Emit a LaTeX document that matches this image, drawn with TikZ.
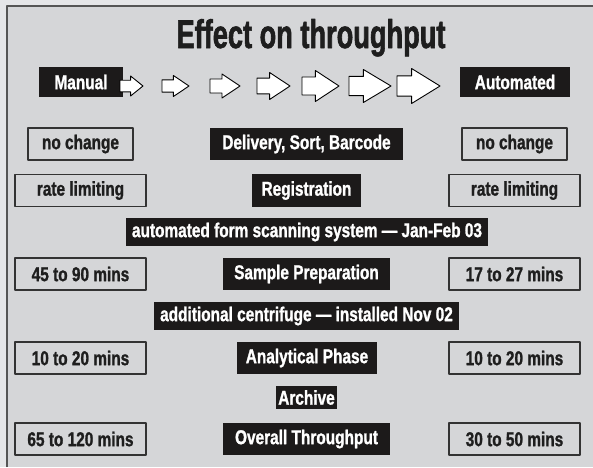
\documentclass[tikz,border=0pt]{standalone}
\usepackage{fontspec}
\setmainfont{Liberation Sans}[FakeStretch=0.77,BoldFeatures={FakeBold=1.2}]
\newfontfamily\titlefont{Liberation Sans}[FakeStretch=0.68,BoldFeatures={FakeBold=1.5}]
\definecolor{outerbg}{HTML}{E5E6E8}
\definecolor{innerbg}{HTML}{D5D6D8}
\definecolor{framegrey}{HTML}{555555}
\definecolor{boxblack}{HTML}{1C1A1A}
\definecolor{boxline}{HTML}{333333}
\definecolor{inkgrey}{HTML}{1E1E1E}
\begin{document}
\begin{tikzpicture}[x=1pt,y=-1pt,line join=round,font=\fontsize{20}{22}\selectfont\bfseries,
	blackbox/.style={fill=boxblack,text=white,inner sep=2pt},
	whitebox/.style={draw=boxline,line width=1.2pt,fill=innerbg,text=inkgrey,inner sep=2pt,minimum height=32},
	blockarrow/.style={draw=black,fill=white,line width=0.9pt}]
	% Parameters
	\def\xl{80.5}   % left column
	\def\xm{306.5}  % middle column
	\def\xr{514.5}  % right column
	\def\ay{86}     % arrow row
	
	% Background and frame
	\useasboundingbox (0,0) rectangle (593,467);
	\fill[outerbg] (0,0) rectangle (593,467);
	\fill[innerbg] (6,5) rectangle (593,467);
	\draw[framegrey,line width=2pt] (7,467) -- (7,6) -- (593,6);
	
	% Title
	\node[anchor=base,text=inkgrey,font=\titlefont\fontsize{40}{44}\selectfont\bfseries] (title) at (311,48) {Effect on throughput};
	
	% Manual -> Automated
	\node[blackbox,minimum width=84,minimum height=30] (manual) at (81,82) {Manual};
	\node[blackbox,minimum width=110,minimum height=30] (automated) at (515,82) {Automated};
	\foreach \xa/\len/\hh in {120/23/20, 162/27/21, 210/30/24, 257/33/27, 302/37/31, 349/42/33, 397/43/35}
	{
		\draw[blockarrow] (\xa,{\ay-0.29*\hh}) -- ({\xa+0.2*\len+6},{\ay-0.29*\hh}) -- ({\xa+0.2*\len+6},{\ay-\hh/2})
			-- ({\xa+\len},\ay) -- ({\xa+0.2*\len+6},{\ay+\hh/2}) -- ({\xa+0.2*\len+6},{\ay+0.29*\hh})
			-- (\xa,{\ay+0.29*\hh}) -- cycle;
	}
	
	% Delivery, Sort, Barcode
	\node[whitebox,minimum width=105] (delivL) at (\xl,144) {no change};
	\node[blackbox,minimum width=193,minimum height=32] (deliv) at (\xm,144) {Delivery, Sort, Barcode};
	\node[whitebox,minimum width=105] (delivR) at (\xr,144) {no change};
	
	% Registration
	\node[whitebox,minimum width=131] (registL) at (\xl,190.5) {rate limiting};
	\node[blackbox,minimum width=109,minimum height=33] (regist) at (\xm,190.5) {Registration};
	\node[whitebox,minimum width=131] (registR) at (\xr,190.5) {rate limiting};
	\node[blackbox,minimum width=362,minimum height=28] (scanning) at (307,232) {automated form scanning system --- Jan-Feb 03};
	
	% Sample Preparation
	\node[whitebox,minimum width=131] (sampleL) at (\xl,274) {45 to 90 mins};
	\node[blackbox,minimum width=167,minimum height=32] (sample) at (\xm,274) {Sample Preparation};
	\node[whitebox,minimum width=131] (sampleR) at (\xr,274) {17 to 27 mins};
	\node[blackbox,minimum width=305,minimum height=28] (centrifuge) at (\xm,316) {additional centrifuge --- installed Nov 02};
	
	% Analytical Phase
	\node[whitebox,minimum width=131] (analytL) at (\xl,358) {10 to 20 mins};
	\node[blackbox,minimum width=140,minimum height=32] (analyt) at (307,358) {Analytical Phase};
	\node[whitebox,minimum width=131] (analytR) at (\xr,358) {10 to 20 mins};
	\node[blackbox,minimum width=61,minimum height=23] (archive) at (\xm,397.5) {Archive};
	
	% Overall Throughput
	\node[whitebox,minimum width=131] (overallL) at (\xl,439) {65 to 120 mins};
	\node[blackbox,minimum width=167,minimum height=32] (overall) at (\xm,439) {Overall Throughput};
	\node[whitebox,minimum width=131] (overallR) at (\xr,439) {30 to 50 mins};
\end{tikzpicture}
\end{document}
